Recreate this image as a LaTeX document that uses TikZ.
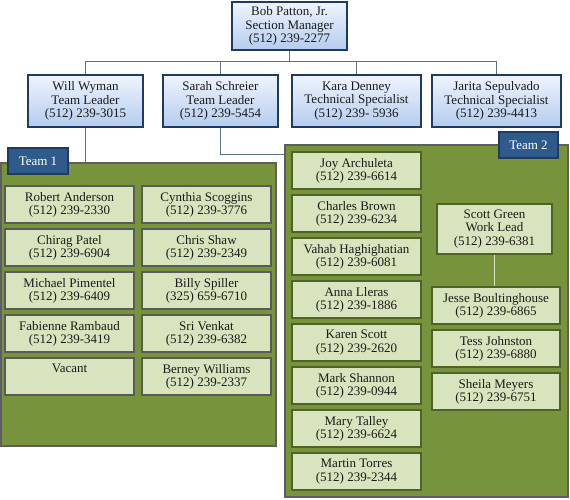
\documentclass[tikz,border=0pt]{standalone}
\usepackage{fontspec}
\setmainfont{Liberation Serif}
\definecolor{navy}{HTML}{1F3B63}
\definecolor{btop}{HTML}{EEF4FD}
\definecolor{bbot}{HTML}{B5CCEF}
\definecolor{conn}{HTML}{5C7089}
\definecolor{panelfill}{HTML}{77933C}
\definecolor{panelline}{HTML}{5E5E5E}
\definecolor{innerfill}{HTML}{D7E4BD}
\definecolor{grayline}{HTML}{5A5A5A}
\definecolor{greenline}{HTML}{4F6228}
\definecolor{labelfill}{HTML}{2F5A8C}
\definecolor{txt}{HTML}{1A1A1A}
\newcommand\orgbox[7]{\node[#1, minimum width={#5pt-#3pt}, minimum height={#6pt-#4pt}] (#2) at ({(#3+#5)/2},{(#4+#6)/2}) {#7};}
\begin{document}
\begin{tikzpicture}[x=1pt,y=-1pt,
  base/.style={rectangle, inner sep=0pt, align=center, text=txt, font=\fontsize{13}{13.2}\selectfont},
  mgr/.style={base, draw=navy, line width=1.6pt, top color=btop, bottom color=bbot},
  panel/.style={rectangle, inner sep=0pt, fill=panelfill, draw=panelline, line width=1.6pt},
  tlabel/.style={base, fill=labelfill, draw=navy, line width=1.4pt, text=white},
  memA/.style={base, fill=innerfill, draw=grayline, line width=1.8pt},
  memB/.style={base, fill=innerfill, draw=greenline, line width=1.8pt},
  link/.style={draw=conn, line width=1pt},
  lead/.style={draw=innerfill, line width=1pt}]
\useasboundingbox (0,0) rectangle (570,500);
% top level
\orgbox{mgr}{bob}{232}{2}{347}{50}{Bob Patton, Jr.\\Section Manager\\(512) 239-2277}
\orgbox{mgr}{will}{28}{75}{143}{127}{Will Wyman\\Team Leader\\(512) 239-3015}
\orgbox{mgr}{sarah}{163}{75}{278}{127}{Sarah Schreier\\Team Leader\\(512) 239-5454}
\orgbox{mgr}{kara}{292}{75}{421}{127}{Kara Denney\\Technical Specialist\\(512) 239- 5936}
\orgbox{mgr}{jarita}{432}{75}{561}{127}{Jarita Sepulvado\\Technical Specialist\\(512) 239-4413}
% panels
\orgbox{panel}{t1}{1}{163}{276}{446}{}
\orgbox{panel}{t2}{285}{145}{568}{497}{}
\orgbox{tlabel}{t1lab}{8}{148}{68}{174}{Team 1}
\orgbox{tlabel}{t2lab}{499}{132}{558}{158}{Team 2}
% connectors
\draw[link] (bob.south) -- ++(0,11) coordinate (bus);
\draw[link] (will.north) |- (bus) -| (jarita.north);
\draw[link] (sarah.north) -- (sarah.north |- bus);
\draw[link] (kara.north) -- (kara.north |- bus);
\draw[link] (will.south) -- (will.south |- t1.north);
\coordinate (s2y) at (0,154);
\draw[link] (sarah.south) |- (t2.west |- s2y);
% team 1
\orgbox{memA}{r1}{5}{186}{134}{223}{Robert Anderson\\(512) 239-2330}
\orgbox{memA}{r2}{5}{229}{134}{266}{Chirag Patel\\(512) 239-6904}
\orgbox{memA}{r3}{5}{272}{134}{309}{Michael Pimentel\\(512) 239-6409}
\orgbox{memA}{r4}{5}{315}{134}{352}{Fabienne Rambaud\\(512) 239-3419}
\orgbox{memA}{r5}{5}{358}{134}{395}{Vacant\\\phantom{(512)}}
\orgbox{memA}{c1}{142}{186}{271}{223}{Cynthia Scoggins\\(512) 239-3776}
\orgbox{memA}{c2}{142}{229}{271}{266}{Chris Shaw\\(512) 239-2349}
\orgbox{memA}{c3}{142}{272}{271}{309}{Billy Spiller\\(325) 659-6710}
\orgbox{memA}{c4}{142}{315}{271}{352}{Sri Venkat\\(512) 239-6382}
\orgbox{memA}{c5}{142}{358}{271}{395}{Berney Williams\\(512) 239-2337}
% team 2
\orgbox{memB}{l1}{292}{152}{421}{189}{Joy Archuleta\\(512) 239-6614}
\orgbox{memB}{l2}{292}{195}{421}{232}{Charles Brown\\(512) 239-6234}
\orgbox{memB}{l3}{292}{238}{421}{275}{Vahab Haghighatian\\(512) 239-6081}
\orgbox{memB}{l4}{292}{281}{421}{318}{Anna Lleras\\(512) 239-1886}
\orgbox{memB}{l5}{292}{324}{421}{361}{Karen Scott\\(512) 239-2620}
\orgbox{memB}{l6}{292}{367}{421}{404}{Mark Shannon\\(512) 239-0944}
\orgbox{memB}{l7}{292}{410}{421}{447}{Mary Talley\\(512) 239-6624}
\orgbox{memB}{l8}{292}{453}{421}{490}{Martin Torres\\(512) 239-2344}
\orgbox{memB}{scott}{437}{204}{552}{254}{Scott Green\\Work Lead\\(512) 239-6381}
\orgbox{memB}{jesse}{432}{287}{560}{324}{Jesse Boultinghouse\\(512) 239-6865}
\orgbox{memB}{tess}{432}{330}{560}{367}{Tess Johnston\\(512) 239-6880}
\orgbox{memB}{sheila}{432}{373}{560}{410}{Sheila Meyers\\(512) 239-6751}
\draw[lead] (scott.south) -- (scott.south |- jesse.north);
\end{tikzpicture}
\end{document}
